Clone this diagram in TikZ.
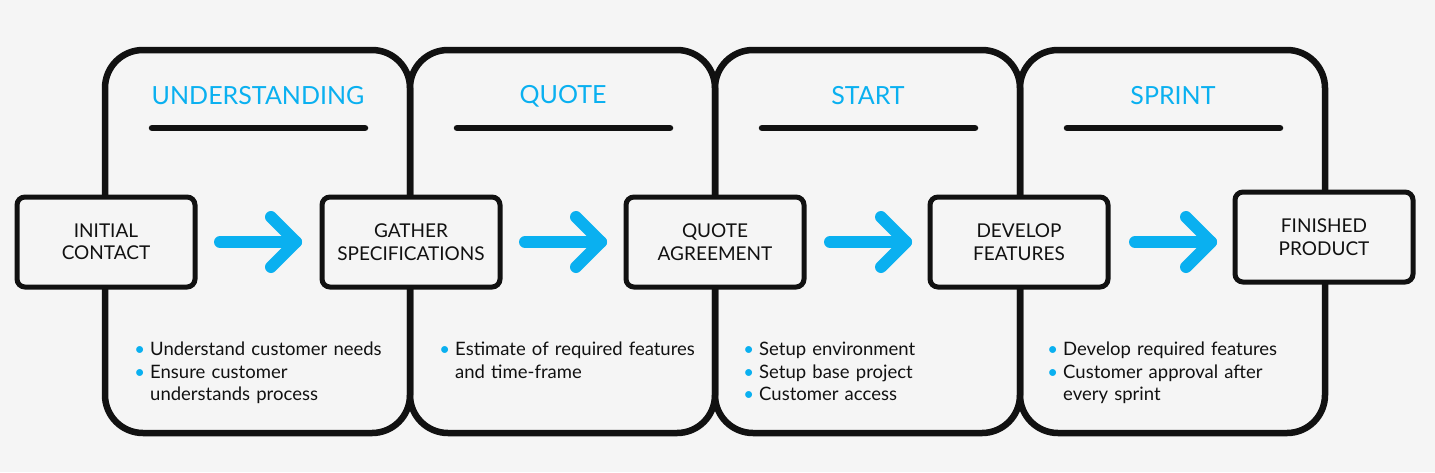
\documentclass[tikz,border=0pt]{standalone}
\usepackage{fontspec}
\setmainfont{Lato}
\definecolor{bg}{HTML}{F5F5F5}
\definecolor{cy}{HTML}{0AB0F0}
\definecolor{ink}{HTML}{111111}
\begin{document}
\begin{tikzpicture}[x=1pt,y=-1pt,
  panel/.style={draw=ink,line width=6.5pt,rounded corners=38pt},
  box/.style={draw=ink,line width=5pt,fill=bg,rounded corners=8pt,minimum width=178pt,minimum height=90pt,align=center,font=\fontsize{19}{22.5}\selectfont,text=ink},
  title/.style={text=cy,font=\fontsize{25}{28}\selectfont},
  rule/.style={draw=ink,line width=6.5pt,line cap=round},
  arr/.style={draw=cy,line width=12pt,line cap=round,line join=round},
  bul/.style={anchor=north west,align=left,text=ink,font=\fontsize{18.5}{22.5}\selectfont,text width=280pt,inner sep=0pt}]
\fill[bg] (0,0) rectangle (1435,472);
\foreach \i/\t in {0/UNDERSTANDING,1/QUOTE,2/START,3/SPRINT}{
  \draw[panel] (105+\i*305,50) rectangle (410+\i*305,433);
  \node[title] (t\i) at (258+\i*305,96) {\t};
  \coordinate (ra\i) at (152+\i*305,128);
  \coordinate (rb\i) at (365+\i*305,128);
  \draw[rule] (ra\i) -- (rb\i);
}
\node[box] (b0) at (106,242) {INITIAL\\CONTACT};
\node[box] (b1) at (411,242) {GATHER\\SPECIFICATIONS};
\node[box] (b2) at (715,242) {QUOTE\\AGREEMENT};
\node[box] (b3) at (1019,242) {DEVELOP\\FEATURES};
\node[box] (b4) at (1324,237) {FINISHED\\PRODUCT};
\foreach \i in {0,1,2,3}{
  \coordinate (as\i) at (220+\i*305,242);
  \coordinate (ae\i) at (296+\i*305,242);
  \draw[arr] (as\i) -- (ae\i);
  \draw[arr] ([shift={(-25,-25)}]ae\i) -- (ae\i) -- ([shift={(-25,25)}]ae\i);
}
\newcommand{\bl}{\makebox[0pt][r]{\textcolor{cy}{\textbullet}\hspace{5pt}}}
\node[bul] (l0) at (150,342) {\bl Understand customer needs\\\bl Ensure customer\\understands process};
\node[bul] (l1) at (455,342) {\bl Estimate of required features\\and time-frame};
\node[bul] (l2) at (759,342) {\bl Setup environment\\\bl Setup base project\\\bl Customer access};
\node[bul] (l3) at (1063,342) {\bl Develop required features\\\bl Customer approval after\\every sprint};
\end{tikzpicture}
\end{document}
